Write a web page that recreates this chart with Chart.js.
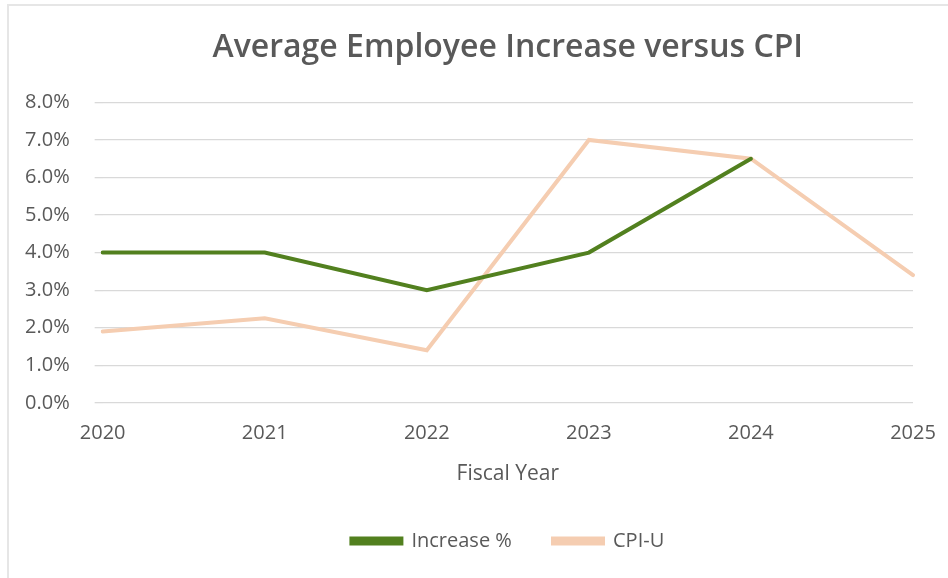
<!DOCTYPE html>
<html>
<head>
<meta charset="utf-8">
<script src="https://cdn.jsdelivr.net/npm/chart.js@4/dist/chart.umd.min.js"></script>
<style>
  html, body { margin: 0; padding: 0; background: #fff; overflow: hidden; }
  #frame { position: absolute; left: 7px; top: 4px; width: 960px; height: 600px; border-left: 2px solid #e6e6e6; border-top: 2px solid #e6e6e6; box-sizing: border-box; }
  #wrap { position: absolute; left: 0; top: 0; width: 948px; height: 578px; }
</style>
</head>
<body>
<div id="frame"></div>
<div id="wrap"><canvas id="c" width="948" height="578"></canvas></div>
<script>
const years = ['2020', '2021', '2022', '2023', '2024', '2025'];
const increasePct = [4.0, 4.0, 3.0, 4.0, 6.5, null];
const cpiU = [1.9, 2.25, 1.4, 7.0, 6.5, 3.4];
const seriesNames = ['Increase %', 'CPI-U'];
const titleText = 'Average Employee Increase versus CPI';
const xTitle = 'Fiscal Year';

const FONT = "'Open Sans', 'Noto Sans', sans-serif";
const TXT = '#595959';
const GREEN = '#52801f';
const PEACH = '#f5cdb1';

new Chart(document.getElementById('c'), {
  type: 'line',
  data: {
    labels: years,
    datasets: [
      { label: seriesNames[0], data: increasePct, borderColor: GREEN, backgroundColor: GREEN, borderWidth: 4, pointRadius: 0, tension: 0, spanGaps: false, borderCapStyle: 'round' },
      { label: seriesNames[1], data: cpiU, borderColor: PEACH, backgroundColor: PEACH, borderWidth: 4, pointRadius: 0, tension: 0, borderCapStyle: 'round' }
    ]
  },
  options: {
    responsive: false,
    animation: false,
    layout: { padding: { left: 0, right: 35, top: 0, bottom: 17 } },
    plugins: {
      title: {
        display: true, fullSize: false, text: titleText, color: TXT,
        font: { family: FONT, size: 32, weight: '600' },
        padding: { top: 29, bottom: 35 }
      },
      legend: {
        position: 'bottom',
        fullSize: false,
        labels: {
          color: TXT, font: { family: FONT, size: 20 },
          boxWidth: 50, boxHeight: 5, padding: 10,
          generateLabels: (chart) => {
            const items = Chart.defaults.plugins.legend.labels.generateLabels(chart);
            items.forEach((it, i) => { if (i < items.length - 1) it.text = it.text + '      '; });
            return items;
          }
        }
      },
      tooltip: { enabled: false }
    },
    scales: {
      x: {
        offset: false,
        grid: { display: false },
        border: { display: false },
        ticks: { color: TXT, font: { family: FONT, size: 20 }, padding: 10, maxRotation: 0 },
        title: { display: true, text: xTitle, color: TXT, font: { family: FONT, size: 21 }, padding: { top: 7, bottom: 34 } }
      },
      y: {
        min: 0, max: 8,
        grid: { color: '#d9d9d9', lineWidth: 1.3 },
        border: { display: false },
        ticks: { stepSize: 1, color: TXT, font: { family: FONT, size: 20 }, padding: 25,
          callback: v => v.toFixed(1) + '%' }
      }
    }
  }
});
</script>
</body>
</html>
